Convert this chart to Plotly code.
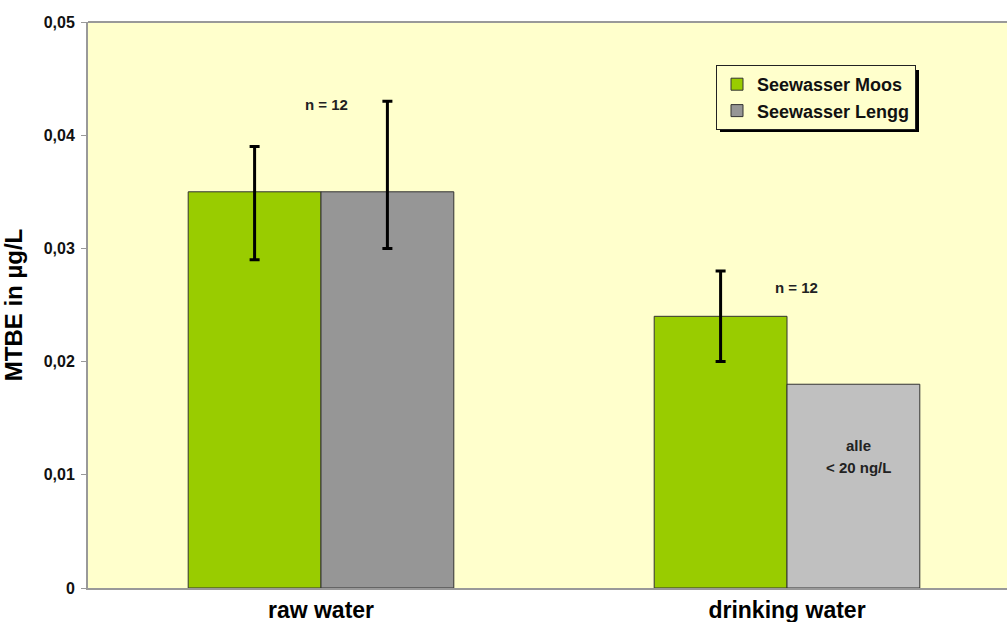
import plotly.graph_objects as go

categories = ["raw water", "drinking water"]
moos_values = [0.035, 0.024]
moos_err_plus = [0.004, 0.004]
moos_err_minus = [0.006, 0.004]
lengg_values = [0.035, 0.018]
lengg_err_plus = [0.008, None]
lengg_err_minus = [0.005, None]
lengg_colors = ["#969696", "#C0C0C0"]
y_tickvals = [0, 0.01, 0.02, 0.03, 0.04, 0.05]
y_ticktext = ["0", "0,01", "0,02", "0,03", "0,04", "0,05"]

L, T, R, B = 88, 22, 0, 34
W, H = 1007, 622
PW, PH = W - L - R, H - T - B


def px_x(x):
    return (x - L) / PW


def px_y(y):
    return (H - B - y) / PH


bar_line = dict(color="#333333", width=1)
fig = go.Figure()
fig.add_trace(go.Bar(
    name="Seewasser Moos", x=categories, y=moos_values, offsetgroup="moos",
    marker=dict(color="#99CC00", line=bar_line),
    error_y=dict(type="data", symmetric=False, array=moos_err_plus, arrayminus=moos_err_minus,
                 color="black", thickness=3, width=5),
))
# Lengg: one trace per category so that only the point with an error bar gets one
for i, cat in enumerate(categories):
    err = None
    if lengg_err_plus[i] is not None:
        err = dict(type="data", symmetric=False, array=[lengg_err_plus[i]],
                   arrayminus=[lengg_err_minus[i]], color="black", thickness=3, width=5)
    fig.add_trace(go.Bar(
        name="Seewasser Lengg", x=[cat], y=[lengg_values[i]], offsetgroup="lengg",
        legendgroup="lengg", showlegend=(i == 0),
        marker=dict(color=lengg_colors[i], line=bar_line),
        error_y=err,
    ))

# legend shadow
fig.add_shape(type="rect", xref="paper", yref="paper",
              x0=px_x(720), x1=px_x(919), y0=px_y(132), y1=px_y(70),
              fillcolor="black", line=dict(width=0), layer="above")

ann_font = dict(family="Arial", size=15, color="#222222", weight="bold")
for (ax, ay, txt) in [(326, 104, "n = 12"), (796, 287, "n = 12"),
                      (858, 445, "alle"), (858, 467, "< 20 ng/L")]:
    fig.add_annotation(xref="paper", yref="paper", x=px_x(ax), y=px_y(ay), text=txt,
                       xanchor="center", yanchor="middle", showarrow=False, font=ann_font)

fig.update_layout(
    width=W, height=H,
    margin=dict(l=L, r=R, t=T, b=B, autoexpand=False),
    plot_bgcolor="#FFFFCC", paper_bgcolor="white",
    barmode="group", bargap=0.43, bargroupgap=0,
    font=dict(family="Arial", color="black"),
    showlegend=True,
    legend=dict(x=px_x(716), y=px_y(65), xanchor="left", yanchor="top",
                bgcolor="#FFFFCC", bordercolor="#222222", borderwidth=1,
                font=dict(family="Arial", size=18, color="#111111", weight="bold"),
                traceorder="normal", tracegroupgap=0),
    xaxis=dict(range=[-0.5, -0.5 + PW / 466], showline=True, linecolor="#999999", linewidth=2,
               mirror=False, ticks="", showgrid=False, automargin=False,
               tickfont=dict(family="Arial", size=23, color="black", weight="bold")),
    yaxis=dict(range=[0, 0.05], tickvals=y_tickvals, ticktext=y_ticktext, automargin=False,
               showline=True, linecolor="#999999", linewidth=2, ticks="outside", ticklen=5,
               tickcolor="#999999", showgrid=False, zeroline=False, ticklabelstandoff=3,
               tickfont=dict(family="Arial", size=16, color="#111111", weight="bold"),
               title=dict(text="MTBE in µg/L", standoff=30,
                          font=dict(family="Arial", size=24, color="black", weight="bold"))),
)
fig.add_shape(type="line", xref="paper", yref="paper", x0=0, x1=1, y0=1, y1=1,
              line=dict(color="#999999", width=2))

fig.write_html("out.html", config={"displayModeBar": False},
               post_script="document.body.style.margin='0';document.body.style.overflow='hidden';")
